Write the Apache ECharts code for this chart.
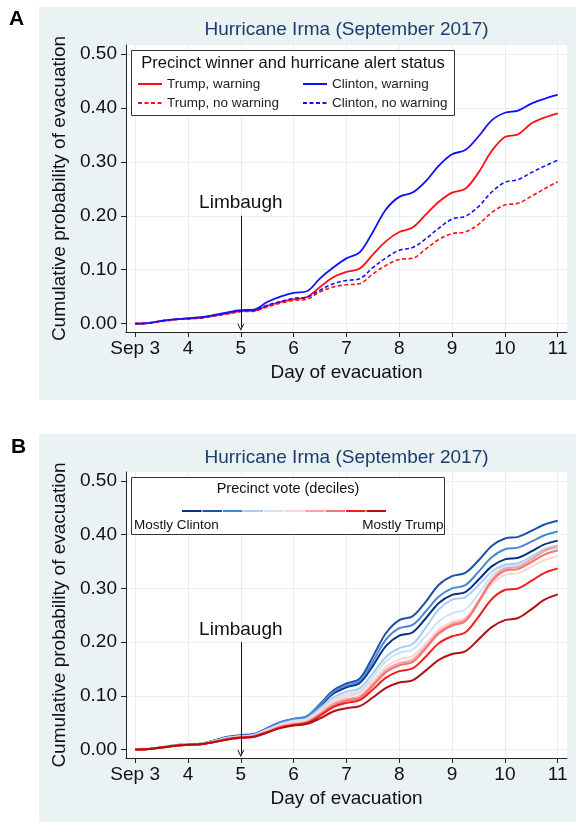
<!DOCTYPE html>
<html><head><meta charset="utf-8">
<script src="https://cdn.jsdelivr.net/npm/echarts@6/dist/echarts.min.js"></script>
<style>html,body{margin:0;padding:0;background:#fff}#c{width:576px;height:822px}</style>
</head><body><div id="c"></div>
<script>
// ---- data ----
const days = [3,3.25,3.5,3.75,4,4.25,4.5,4.75,5,5.25,5.5,5.75,6,6.25,6.5,6.75,7,7.25,7.5,7.75,8,8.25,8.5,8.75,9,9.25,9.5,9.75,10,10.25,10.5,10.75,11];
const dayTicks = [3,4,5,6,7,8,9,10,11];
const dayTickLabels = ['Sep 3','4','5','6','7','8','9','10','11'];
const probTicks = [0,0.1,0.2,0.3,0.4,0.5];

const seriesNamesA = ['Trump, warning','Clinton, warning','Trump, no warning','Clinton, no warning'];
const trumpWarning   = [0,.001,.005,.008,.009,.011,.015,.019,.023,.024,.033,.040,.045,.049,.068,.086,.096,.102,.128,.153,.170,.178,.202,.226,.243,.250,.280,.320,.346,.351,.371,.382,.390];
const clintonWarning = [0,.001,.005,.008,.010,.012,.016,.021,.025,.026,.040,.050,.057,.060,.084,.104,.121,.132,.170,.212,.235,.243,.264,.293,.314,.322,.347,.377,.391,.395,.408,.417,.424];
const trumpNoWarning = [0,.001,.004,.007,.009,.010,.014,.018,.022,.023,.031,.038,.043,.045,.059,.068,.072,.074,.092,.108,.119,.121,.138,.156,.167,.170,.184,.206,.220,.223,.236,.250,.263];
const clintonNoWarning = [0,.001,.005,.008,.009,.011,.015,.020,.024,.025,.034,.041,.047,.049,.062,.074,.080,.083,.104,.122,.136,.141,.157,.177,.194,.199,.217,.244,.262,.267,.280,.292,.303];

const decileNames = ['Decile 1','Decile 2','Decile 3','Decile 4','Decile 5','Decile 6','Decile 7','Decile 8','Decile 9','Decile 10'];
const decile1  = [0,.001,.004,.008,.010,.011,.017,.023,.026,.028,.039,.050,.056,.061,.081,.104,.116,.124,.156,.193,.212,.218,.244,.273,.288,.293,.316,.341,.354,.357,.369,.382,.389];
const decile2  = [0,.001,.004,.008,.010,.011,.017,.024,.027,.029,.040,.051,.057,.062,.085,.110,.123,.132,.173,.217,.241,.248,.275,.307,.323,.329,.352,.379,.393,.396,.407,.419,.426];
const decile3  = [0,.001,.004,.008,.010,.011,.017,.023,.026,.028,.039,.051,.057,.062,.083,.107,.119,.128,.164,.205,.226,.232,.257,.285,.300,.306,.331,.358,.373,.376,.387,.399,.406];
const decile4  = [0,.001,.004,.008,.010,.011,.016,.022,.025,.027,.037,.048,.054,.058,.077,.097,.108,.114,.142,.173,.189,.196,.227,.261,.279,.284,.306,.331,.344,.347,.359,.373,.380];
const decile5  = [0,.001,.004,.008,.010,.011,.016,.022,.025,.027,.037,.047,.053,.057,.074,.093,.103,.109,.135,.165,.180,.186,.211,.239,.254,.261,.290,.323,.340,.343,.355,.369,.376];
const decile6  = [0,.001,.004,.007,.009,.010,.015,.021,.024,.026,.035,.045,.050,.054,.071,.089,.099,.105,.128,.154,.168,.174,.197,.224,.238,.245,.275,.308,.325,.328,.340,.353,.360];
const decile7  = [0,.001,.004,.007,.009,.010,.015,.021,.024,.026,.034,.043,.048,.052,.067,.085,.094,.099,.122,.148,.161,.167,.192,.219,.234,.242,.277,.316,.337,.340,.354,.370,.378];
const decile8  = [0,.001,.004,.007,.009,.010,.015,.020,.023,.025,.033,.042,.047,.051,.065,.082,.091,.096,.119,.144,.157,.163,.188,.216,.231,.239,.274,.313,.333,.336,.349,.363,.371];
const decile9  = [0,.001,.004,.007,.009,.010,.014,.019,.022,.024,.032,.041,.046,.049,.063,.079,.087,.092,.112,.134,.146,.151,.173,.198,.211,.218,.247,.280,.297,.300,.314,.329,.337];
const decile10 = [0,.001,.004,.007,.009,.010,.014,.019,.022,.024,.032,.040,.045,.048,.058,.071,.077,.081,.097,.115,.125,.129,.147,.167,.178,.183,.205,.228,.241,.245,.261,.279,.289];

const limbaughDay = 5, limbaughTop = 0.2, limbaughBottom = -0.007;

// ---- styling ----
const FF = "'Liberation Sans', Arial, Helvetica, sans-serif";
const decileColors = ['#0b2f7e','#1d52a8','#4a87d6','#a9cdf2','#cfe2f6','#fdd6d6','#f8a4a4','#f27474','#f41e1e','#b30f0f'];
const colorsA = ['#ff1010','#1010ff','#ff1010','#1010ff'];
const dashA = [false,false,true,true];

const pts = arr => days.map((d,i)=>[d,arr[i]]);

function xAx(gi){
  return {type:'value', gridIndex:gi, min:2.826, max:11.176,
    name:'Day of evacuation', nameLocation:'middle', nameGap:31,
    nameTextStyle:{fontSize:19,color:'#111',fontFamily:FF},
    axisLine:{show:true,onZero:false,lineStyle:{color:'#222',width:1}},
    axisTick:{show:true,length:5,customValues:dayTicks,lineStyle:{color:'#222'}},
    axisLabel:{customValues:dayTicks,fontSize:19,color:'#111',fontFamily:FF,margin:7,
      formatter:v=>{const i=dayTicks.indexOf(Math.round(v));return i>=0?dayTickLabels[i]:'';}},
    splitLine:{show:true,lineStyle:{color:'#e6eff1',width:1}}};
}
function yAx(gi){
  return {type:'value', gridIndex:gi, min:-0.0156, max:0.5167,
    name:'Cumulative probability of evacuation', nameLocation:'middle', nameGap:50,
    nameTextStyle:{fontSize:19,color:'#111',fontFamily:FF},
    axisLine:{show:true,onZero:false,lineStyle:{color:'#222',width:1}},
    axisTick:{show:true,length:5,customValues:probTicks,lineStyle:{color:'#222'}},
    axisLabel:{customValues:probTicks,fontSize:19,color:'#111',fontFamily:FF,margin:9,
      formatter:v=>v.toFixed(2)},
    splitLine:{show:true,lineStyle:{color:'#e6eff1',width:1}}};
}
const vArrow = 'path://M5,0 L10,10 L8.6,10 L5,3 L1.4,10 L0,10 Z';
function limbaugh(){
  return {silent:true, symbol:['none',vArrow], symbolSize:[7,7], animation:false,
    lineStyle:{color:'#111',width:1,type:'solid'},
    label:{show:true,position:'start',distance:3,formatter:'Limbaugh',fontSize:19,color:'#111',fontFamily:FF},
    data:[[{coord:[limbaughDay,limbaughTop]},{coord:[limbaughDay,limbaughBottom]}]]};
}

const series = [];
const arrsA = [trumpWarning, clintonWarning, trumpNoWarning, clintonNoWarning];
arrsA.forEach((a,i)=>{
  const s = {name:seriesNamesA[i], type:'line', xAxisIndex:0, yAxisIndex:0, data:pts(a),
    symbol:'none', smooth:0.35, color:colorsA[i],
    lineStyle:{color:colorsA[i], width:dashA[i]?1.6:1.8, type:dashA[i]?[4,2.5]:'solid'}};
  if(i===0) s.markLine = limbaugh();
  series.push(s);
});
const arrsB = [decile1,decile2,decile3,decile4,decile5,decile6,decile7,decile8,decile9,decile10];
arrsB.forEach((a,i)=>{
  const s = {name:decileNames[i], type:'line', xAxisIndex:1, yAxisIndex:1, data:pts(a),
    symbol:'none', smooth:0.35, color:decileColors[i],
    lineStyle:{color:decileColors[i], width:2}};
  if(i===0) s.markLine = limbaugh();
  series.push(s);
});

const txt = (text,x,y,size,opts={}) => ({type:'text', z:6, style:Object.assign({text, x, y,
  font:(opts.bold?'bold ':'')+size+'px '+FF, fill:opts.fill||'#111', textAlign:opts.align||'left',
  textVerticalAlign:'middle'})});

const option = {
  animation:false,
  grid:[
    {left:126, top:45, width:441, height:287, show:true, backgroundColor:'#fff', borderWidth:0},
    {left:126, top:472, width:441, height:286, show:true, backgroundColor:'#fff', borderWidth:0}
  ],
  xAxis:[xAx(0), xAx(1)],
  yAxis:[yAx(0), yAx(1)],
  legend:[
    {data:['Trump, warning','Trump, no warning'], orient:'vertical', left:137, top:77,
      itemWidth:24, itemHeight:14, itemGap:5, selectedMode:false, padding:0,
      itemStyle:{opacity:0},
      textStyle:{fontSize:13.5, color:'#222', fontFamily:FF, lineHeight:14}},
    {data:['Clinton, warning','Clinton, no warning'], orient:'vertical', left:302, top:77,
      itemWidth:24, itemHeight:14, itemGap:5, selectedMode:false, padding:0,
      itemStyle:{opacity:0},
      textStyle:{fontSize:13.5, color:'#222', fontFamily:FF, lineHeight:14}},
    {data:decileNames, orient:'horizontal', left:181, top:505, itemWidth:19.5, itemHeight:12,
      itemGap:-1.0, selectedMode:false, padding:0, formatter:()=>'',
      itemStyle:{opacity:0},
      textStyle:{fontSize:1}}
  ],
  graphic:[
    {type:'rect', z:-100, silent:true, shape:{x:39,y:7,width:537,height:393}, style:{fill:'#eaf2f3'}},
    {type:'rect', z:-100, silent:true, shape:{x:39,y:434,width:537,height:388}, style:{fill:'#eaf2f3'}},
    txt('A',9,19.5,21,{bold:true,fill:'#000'}),
    txt('B',11,447,21,{bold:true,fill:'#000'}),
    txt('Hurricane Irma (September 2017)',346.5,30,19,{align:'center',fill:'#1a3d6d'}),
    txt('Hurricane Irma (September 2017)',346.5,457.5,19,{align:'center',fill:'#1a3d6d'}),
    {type:'rect', z:3, silent:true, shape:{x:131.5,y:50.5,width:323,height:65}, style:{fill:'#fff',stroke:'#333',lineWidth:1}},
    txt('Precinct winner and hurricane alert status',293,63,16.5,{align:'center',fill:'#111'}),
    {type:'rect', z:3, silent:true, shape:{x:131.5,y:477.5,width:313,height:57}, style:{fill:'#fff',stroke:'#333',lineWidth:1}},
    txt('Precinct vote (deciles)',288,489,14.5,{align:'center',fill:'#111'}),
    txt('Mostly Clinton',134,525.5,13.5,{fill:'#111'}),
    txt('Mostly Trump',443.5,525.5,13.5,{align:'right',fill:'#111'})
  ],
  series
};
const chart = echarts.init(document.getElementById('c'), null, {renderer:'canvas'});
chart.setOption(option);
</script></body></html>
